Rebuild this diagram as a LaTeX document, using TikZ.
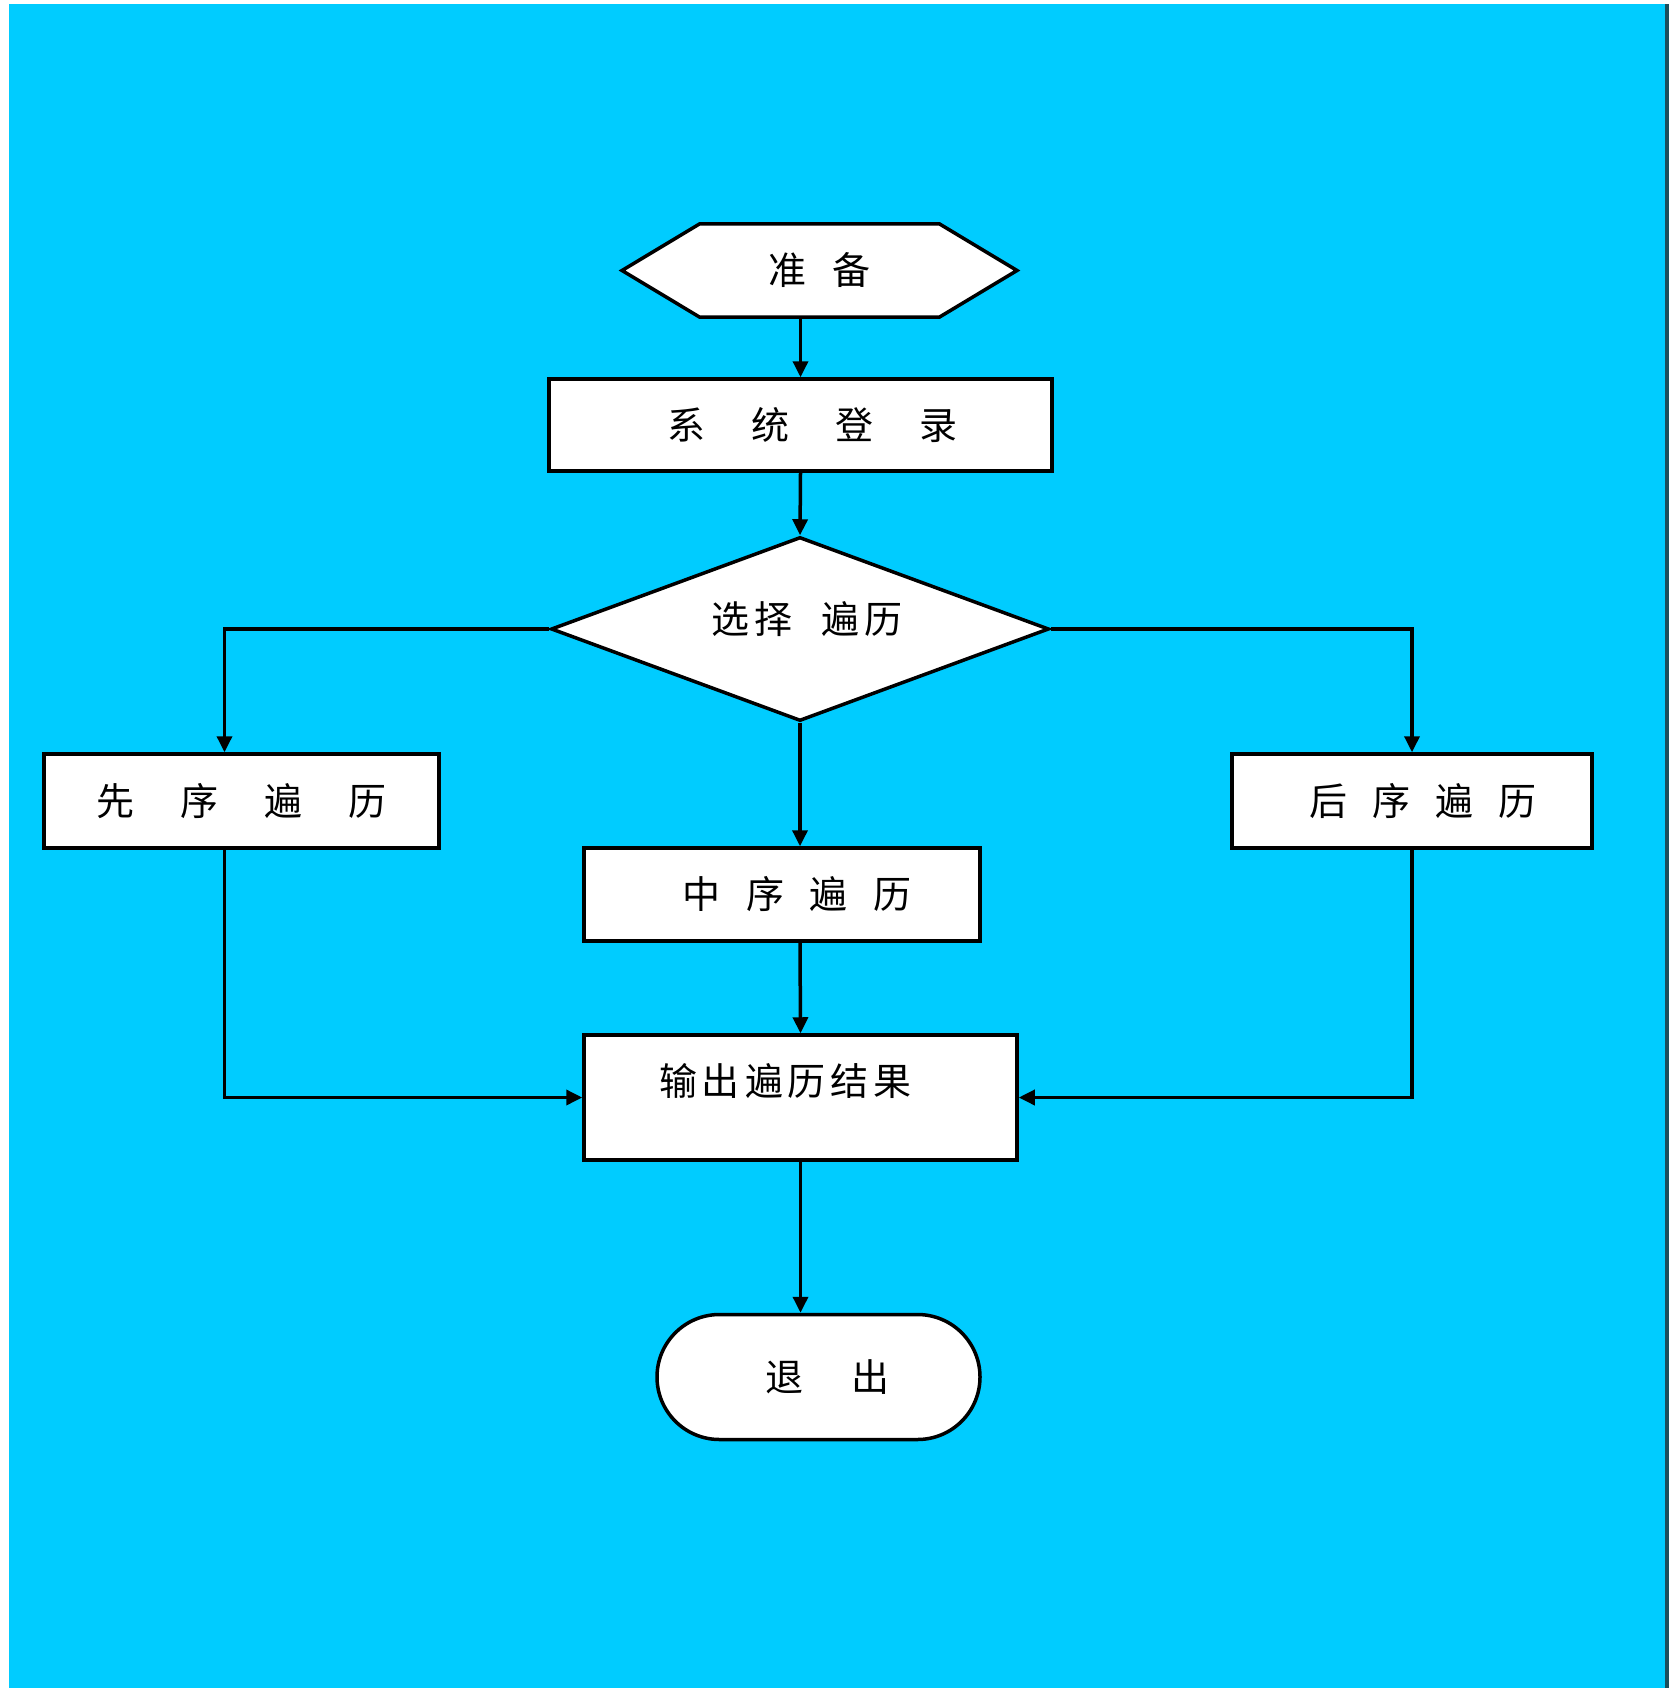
\documentclass[tikz,border=0pt]{standalone}
\usepackage{fontspec}
\newfontfamily\cjk{Noto Sans CJK SC}
\usepackage{tikz}
\usetikzlibrary{arrows.meta}
\usetikzlibrary{shapes.geometric}
\usetikzlibrary{shapes.symbols}
\usetikzlibrary{shapes.misc}

\definecolor{sfondo}{HTML}{00CCFF}
\definecolor{bordo}{HTML}{1B4F5C}
\newcommand{\spazio}[1]{\hspace{#1pt}}

\begin{document}
\begin{tikzpicture}[x=1pt, y=-1pt,
  every node/.style={font=\cjk\fontsize{38}{44}\selectfont},
  casella/.style={rectangle, draw, line width=3.5pt, fill=white, inner sep=0pt},
  esagono/.style={signal, signal to=west and east, signal pointer angle=62,
    draw, line width=3.5pt, fill=white, inner sep=0pt},
  rombo/.style={diamond, aspect=2.7, draw, line width=3.5pt, fill=white, inner sep=0pt},
  capsula/.style={rounded rectangle, draw, line width=3.5pt, fill=white, inner sep=0pt},
  freccia/.style={line width=3.5pt, -{Triangle[length=16pt, width=15pt]}}]

% Sfondo
\useasboundingbox (0,0) rectangle (1669,1688);
\fill[white] (0,0) rectangle (1669,1688);
\fill[sfondo] (9,4) rectangle (1665,1688);
\fill[bordo] (1665,4) rectangle (1669,1688);

% Inizio
\node[esagono, minimum width=395pt, minimum height=93pt] (prep) at (819.5,270.5)
  {准\spazio{27}备};
\node[casella, minimum width=503pt, minimum height=92pt] (login) at (800.5,425)
  {\spazio{24}系\spazio{46}统\spazio{46}登\spazio{46}录};

% Scelta
\node[rombo, minimum width=498pt, minimum height=184pt, text height=33pt, text depth=24pt]
  (scelta) at (800,629) {\spazio{14}选\spazio{5}择\spazio{29}遍\spazio{5}历};

% Tre visite
\node[casella, minimum width=395pt, minimum height=94pt] (pre) at (241.5,801)
  {先\spazio{46}序\spazio{46}遍\spazio{46}历};
\node[casella, minimum width=396pt, minimum height=93pt] (mid) at (782,894.5)
  {\spazio{30}中\spazio{26}序\spazio{26}遍\spazio{26}历};
\node[casella, minimum width=360pt, minimum height=94pt] (post) at (1412,801)
  {\spazio{22}后\spazio{25}序\spazio{25}遍\spazio{25}历};

% Risultato e uscita
\node[casella, minimum width=433pt, minimum height=125pt, text height=33pt, text depth=37pt]
  (res) at (800.5,1097.5) {输\spazio{5}出\spazio{5}遍\spazio{5}历\spazio{5}结\spazio{5}果\spazio{30}\null};
\node[capsula, minimum width=323pt, minimum height=125pt] (fine) at (818.5,1377)
  {\spazio{18}退\spazio{49}出};

% Frecce
\draw[freccia] (prep.south -| login.north) -- (login.north);
\draw[freccia] (login.south) -- (scelta.north);
\draw[freccia] (scelta.west) -| ([xshift=-17pt]pre.north);
\draw[freccia] (scelta.east) -| (post.north);
\draw[freccia] (scelta.south) -- (scelta.south |- mid.north);
\draw[freccia] (scelta.south |- mid.south) -- (res.north);
\draw[freccia] ([xshift=-17pt]pre.south) |- (res.west);
\draw[freccia] (post.south) |- (res.east);
\draw[freccia] (res.south) -- (res.south |- fine.north);
\end{tikzpicture}
\end{document}
